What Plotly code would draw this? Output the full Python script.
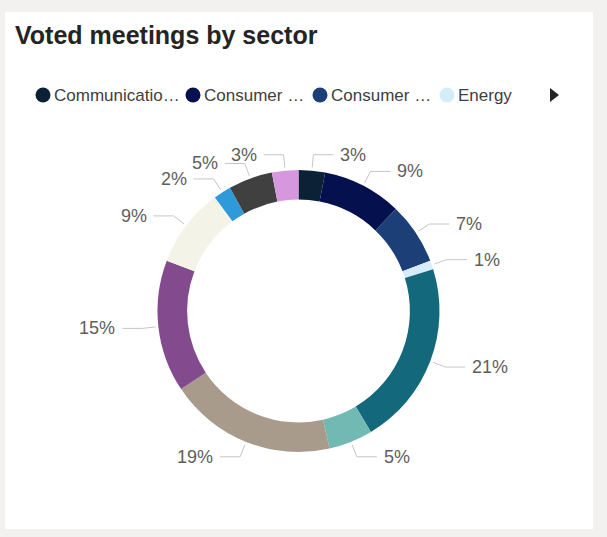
import math
import plotly.graph_objects as go

# ---------------- data ----------------
sectors = ["Communication Services", "Consumer Discretionary", "Consumer Staples", "Energy",
           "Financials", "Health Care", "Industrials", "Information Technology",
           "Materials", "Real Estate", "Utilities", "Other"]
shares = [3, 9, 7, 1, 21, 5, 19, 15, 9, 2, 5, 3]
colors = ["#0b2236", "#05104e", "#1c3f78", "#d5ecfb", "#14687b", "#72b9b4",
          "#a89b8b", "#834a8d", "#f3f3e7", "#2f9ad9", "#404040", "#d797df"]
legend_labels = ["Communicatio…", "Consumer …", "Consumer …", "Energy"]
title_text = "Voted meetings by sector"

# ---------------- layout geometry (pixels) ----------------
W, H = 607, 537
cx, cy, R = 298.5, 311.0, 141.0
HOLE = 0.79
FONT = "Liberation Sans, Arial, sans-serif"

fig = go.Figure()

fig.add_trace(go.Pie(
    labels=sectors, values=shares, sort=False, direction="clockwise", rotation=0,
    hole=HOLE, textinfo="none", hoverinfo="skip",
    marker=dict(colors=colors, line=dict(width=0)),
    domain=dict(x=[(cx - R) / W, (cx + R) / W], y=[1 - (cy + R) / H, 1 - (cy - R) / H]),
    showlegend=False,
))

# leader lines + labels computed from the slice angles
total = sum(shares)
lx, ly = [], []
annotations = []
cum = 0.0
for v in shares:
    mid = (cum + v / 2) / total * 2 * math.pi
    cum += v
    s, c = math.sin(mid), math.cos(mid)
    p0 = (cx + (R + 3) * s, cy - (R + 3) * c)
    p1 = (cx + (R + 16) * s, cy - (R + 16) * c)
    side = 1 if s >= 0 else -1
    p2 = (p1[0] + side * 20, p1[1])
    lx += [p0[0], p1[0], p2[0], None]
    ly += [p0[1], p1[1], p2[1], None]
    annotations.append(dict(
        x=p2[0] + side * 5, y=p2[1], xref="x", yref="y", text=f"{v}%", showarrow=False,
        xanchor="left" if side > 0 else "right", yanchor="middle",
        font=dict(family=FONT, size=18, color="#605e5c")))

fig.add_trace(go.Scatter(x=lx, y=ly, mode="lines", hoverinfo="skip", showlegend=False,
                         line=dict(color="#c8c6c4", width=1)))

# legend (first visible items, Power BI style)
leg_x = [43, 193, 320, 447]
fig.add_trace(go.Scatter(x=leg_x, y=[95] * len(leg_x), mode="markers", hoverinfo="skip",
                         showlegend=False,
                         marker=dict(size=15, color=colors[:len(leg_x)], line=dict(width=0))))
for x0, lab in zip(leg_x, legend_labels):
    annotations.append(dict(x=x0 + 9, y=95, xref="x", yref="y", text=lab, showarrow=False,
                            xanchor="left", yanchor="middle",
                            font=dict(family=FONT, size=17, color="#404040")))
fig.add_trace(go.Scatter(x=[553], y=[95], mode="markers", hoverinfo="skip", showlegend=False,
                         marker=dict(symbol="triangle-right", size=12, color="#252423")))

annotations.append(dict(x=13, y=35, xref="x", yref="y", text=f"<b>{title_text}</b>",
                        showarrow=False, xanchor="left", yanchor="middle",
                        font=dict(family=FONT, size=25, color="#252423")))

fig.update_layout(
    width=W, height=H, margin=dict(l=0, r=0, t=0, b=0),
    paper_bgcolor="#f2f1f0", plot_bgcolor="rgba(0,0,0,0)",
    xaxis=dict(range=[0, W], visible=False, fixedrange=True, domain=[0, 1]),
    yaxis=dict(range=[H, 0], visible=False, fixedrange=True, domain=[0, 1]),
    shapes=[dict(type="rect", xref="x", yref="y", x0=5, y0=12, x1=593, y1=529,
                 fillcolor="white", line=dict(width=0), layer="below")],
    annotations=annotations,
    showlegend=False,
)

fig.write_html("out.html", config={"displayModeBar": False},
               post_script="document.body.style.margin='0';document.body.style.overflow='hidden';")
